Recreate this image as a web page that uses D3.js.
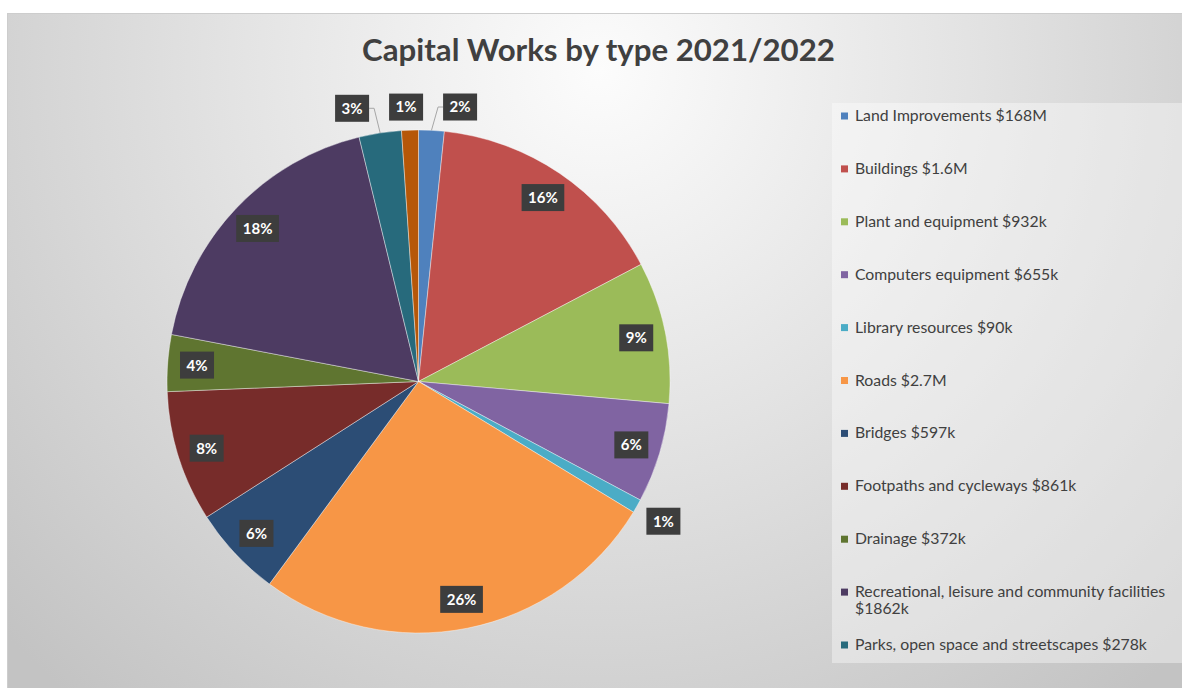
<!DOCTYPE html>
<html>
<head>
<meta charset="utf-8">
<script src="https://cdn.jsdelivr.net/npm/d3@7"></script>
<style>
  html, body { margin: 0; padding: 0; background: #ffffff; }
  svg { display: block; font-family: Lato, "Open Sans", "Liberation Sans", sans-serif; }
</style>
</head>
<body>
<svg id="chart" width="1182" height="688"></svg>
<script>
// Capital works spend by type, 2021/2022 (values in $ thousands)
const categories = [
  "Land Improvements", "Buildings", "Plant and equipment", "Computers equipment",
  "Library resources", "Roads", "Bridges", "Footpaths and cycleways", "Drainage",
  "Recreational, leisure and community facilities", "Parks, open space and streetscapes",
  "Other"
];
const legendLabels = [
  "Land Improvements $168M", "Buildings $1.6M", "Plant and equipment $932k",
  "Computers equipment $655k", "Library resources $90k", "Roads $2.7M", "Bridges $597k",
  "Footpaths and cycleways $861k", "Drainage $372k",
  "Recreational, leisure and community facilities $1862k",
  "Parks, open space and streetscapes $278k", "Other"
];
const values = [168, 1600, 932, 655, 90, 2700, 597, 861, 372, 1862, 278, 110];
const colors = [
  "#4F81BD", "#C0504D", "#9BBB59", "#8064A2", "#4BACC6", "#F79646",
  "#2C4D75", "#772C2A", "#5F7530", "#4D3B62", "#276A7C", "#B65708"
];
const title = "Capital Works by type 2021/2022";

const data = categories.map((c, i) => ({ name: c, legend: legendLabels[i], value: values[i], color: colors[i] }));
const total = d3.sum(values);

const W = 1182, H = 688;
const svg = d3.select("#chart");
const defs = svg.append("defs");

// chart area background
const grad = defs.append("radialGradient")
  .attr("id", "bgGrad").attr("gradientUnits", "userSpaceOnUse")
  .attr("cx", 600).attr("cy", 70).attr("r", 820);
grad.append("stop").attr("offset", 0).attr("stop-color", "#fcfcfc");
grad.append("stop").attr("offset", 0.45).attr("stop-color", "#e3e3e3");
grad.append("stop").attr("offset", 1).attr("stop-color", "#c3c3c3");

svg.append("rect")
  .attr("x", 7.5).attr("y", 13.5).attr("width", W).attr("height", H)
  .attr("fill", "url(#bgGrad)").attr("stroke", "#cdcdcd").attr("stroke-width", 1);

// title, sized to its box width
const titleText = svg.append("text")
  .attr("x", 598.5).attr("y", 61)
  .attr("text-anchor", "middle")
  .attr("font-weight", 700).attr("font-size", 26)
  .attr("fill", "#404040")
  .text(title);
{
  const w = titleText.node().getComputedTextLength();
  titleText.attr("font-size", 26 * 473 / w);
}

// legend
const legendBox = { x: 832, y: 103, w: 350, h: 560 };
svg.append("rect")
  .attr("x", legendBox.x).attr("y", legendBox.y)
  .attr("width", legendBox.w).attr("height", legendBox.h)
  .attr("fill", "#ffffff").attr("fill-opacity", 0.38);

const legend = svg.append("g");
// fit legend font size so the first entry spans its measured width
const probe = legend.append("text").attr("font-size", 14).text(legendLabels[0]);
const legendFont = 14 * 192 / probe.node().getComputedTextLength();
probe.remove();

const legendX = 841, textX = 855, maxTextW = 1174 - textX;
const slotTop = 116, slotStep = 52.9, lineStep = 17;

// entries that do not fit inside the legend box are left out
const shown = data.filter((d, i) => slotTop + i * slotStep + 10 < legendBox.y + legendBox.h);

shown.forEach((d, i) => {
  const y = slotTop + i * slotStep;
  legend.append("rect")
    .attr("x", legendX).attr("y", y - 3.5).attr("width", 7).attr("height", 7)
    .attr("fill", d.color);
  const t = legend.append("text")
    .attr("x", textX).attr("y", y + 5)
    .attr("font-size", legendFont).attr("fill", "#404040");
  // word wrap within the legend box
  const words = d.legend.split(" ");
  let line = [];
  let tspan = t.append("tspan").attr("x", textX).attr("dy", 0);
  words.forEach(word => {
    line.push(word);
    tspan.text(line.join(" "));
    if (tspan.node().getComputedTextLength() > maxTextW && line.length > 1) {
      line.pop();
      tspan.text(line.join(" "));
      line = [word];
      tspan = t.append("tspan").attr("x", textX).attr("dy", lineStep).text(word);
    }
  });
});

// pie
const cx = 418.5, cy = 381.5, R = 251.5;
const pie = d3.pie().sort(null).value(d => d.value);
const arcs = pie(data);
const arc = d3.arc().innerRadius(0).outerRadius(R);

const g = svg.append("g").attr("transform", `translate(${cx},${cy})`);
g.selectAll("path.slice")
  .data(arcs)
  .join("path")
  .attr("class", "slice")
  .attr("d", arc)
  .attr("fill", d => d.data.color)
  .attr("stroke", "rgba(255,255,255,0.5)")
  .attr("stroke-width", 0.8);

// percentage labels
const labelFont = 15, boxH = 27, padX = 6.5, gap = 9, insideFrac = 0.883;
const labelLayer = g.append("g");
const lineLayer = g.insert("g", () => labelLayer.node());

const labels = arcs.map(a => {
  const mid = (a.startAngle + a.endAngle) / 2;
  const frac = a.data.value / total;
  const txt = Math.round(frac * 100) + "%";
  const tmp = labelLayer.append("text").attr("font-size", labelFont).attr("font-weight", 700).text(txt);
  const tw = tmp.node().getComputedTextLength();
  tmp.remove();
  const w = tw + 2 * padX;
  const inside = frac >= 0.03;
  let r;
  if (inside) {
    r = R * insideFrac;
  } else {
    const support = (w / 2) * Math.abs(Math.sin(mid)) + (boxH / 2) * Math.abs(Math.cos(mid));
    r = R + gap + support;
  }
  const x = r * Math.sin(mid), y = -r * Math.cos(mid);
  return { txt, mid, w, inside, x, y, x0: x, y0: y };
});

// spread outside labels that collide
const outside = labels.filter(l => !l.inside).sort((a, b) => a.x - b.x);
for (let iter = 0; iter < 200; iter++) {
  let moved = false;
  for (let i = 0; i < outside.length - 1; i++) {
    const a = outside[i], b = outside[i + 1];
    if (Math.abs(a.y - b.y) >= boxH) continue;
    const need = (a.w + b.w) / 2 + 20;
    const have = b.x - a.x;
    if (have < need) {
      const push = (need - have) / 2;
      a.x -= push; b.x += push;
      moved = true;
    }
  }
  if (!moved) break;
}

// leader lines for displaced labels
labels.filter(l => !l.inside && Math.hypot(l.x - l.x0, l.y - l.y0) > 8).forEach(l => {
  const px = R * Math.sin(l.mid), py = -R * Math.cos(l.mid);
  const left = l.x - l.w / 2, right = l.x + l.w / 2;
  let ex, elx;
  if (px < left) { ex = left; elx = left - 5; }
  else if (px > right) { ex = right; elx = right + 5; }
  else { ex = px; elx = px; }
  lineLayer.append("path")
    .attr("d", `M${px},${py}L${elx},${l.y}L${ex},${l.y}`)
    .attr("fill", "none").attr("stroke", "#a6a6a6").attr("stroke-width", 1);
});

const lg = labelLayer.selectAll("g.lbl").data(labels).join("g")
  .attr("class", "lbl")
  .attr("transform", d => `translate(${d.x},${d.y})`);
lg.append("rect")
  .attr("x", d => -d.w / 2).attr("y", -boxH / 2)
  .attr("width", d => d.w).attr("height", boxH)
  .attr("fill", "#3d3d3d");
lg.append("text")
  .attr("text-anchor", "middle").attr("dy", "0.36em")
  .attr("font-size", labelFont).attr("font-weight", 700)
  .attr("fill", "#ffffff")
  .text(d => d.txt);
</script>
</body>
</html>
